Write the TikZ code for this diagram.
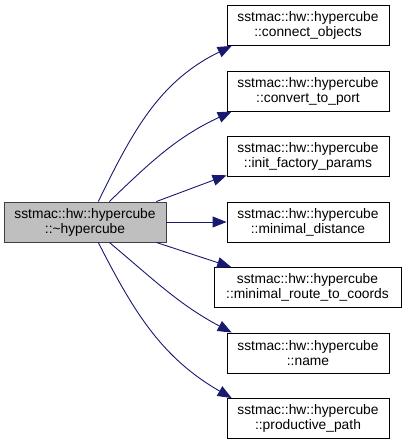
\documentclass[tikz,border=0pt]{standalone}
\usepackage{fontspec}
\setmainfont{Liberation Sans}
\usetikzlibrary{arrows.meta}
\definecolor{edgeblue}{HTML}{191970}
\definecolor{rootgray}{HTML}{BFBFBF}
\definecolor{rootline}{HTML}{404040}
\begin{document}
\begin{tikzpicture}[x=1pt, y=-1pt,
  fn/.style={draw=black, line width=0.9pt, fill=white, minimum width=162pt, minimum height=40pt,
    inner sep=2pt, align=center, font=\fontsize{13.8}{15}\selectfont},
  root/.style={fn, draw=rootline, fill=rootgray},
  call/.style={draw=edgeblue, line width=0.9pt, -{Triangle[length=14pt, width=11pt]}}]
\useasboundingbox (0, 0) rectangle (407, 444);
\node[root] (dtor) at (85, 222) {sstmac::hw::hypercube\\::\textasciitilde hypercube};
\node[fn] (cobj) at (308, 25.5) {sstmac::hw::hypercube\\::connect\_objects};
\node[fn] (cport) at (308, 91) {sstmac::hw::hypercube\\::convert\_to\_port};
\node[fn] (ifp) at (308, 156.5) {sstmac::hw::hypercube\\::init\_factory\_params};
\node[fn] (mdist) at (308, 222) {sstmac::hw::hypercube\\::minimal\_distance};
\node[fn, minimum width=187pt] (mrtc) at (307.5, 287.5) {sstmac::hw::hypercube\\::minimal\_route\_to\_coords};
\node[fn] (name) at (308, 353) {sstmac::hw::hypercube\\::name};
\node[fn] (ppath) at (308, 418.5) {sstmac::hw::hypercube\\::productive\_path};
\draw[call] (dtor.57) to[out=64, in=206] (cobj.195);
\draw[call] (dtor.40) to[out=44, in=205] (cport.195);
\draw[call] (dtor.16) -- (ifp.193);
\draw[call] (dtor) -- (mdist);
\draw[call] (dtor.-16) -- (mrtc.165);
\draw[call] (dtor.-40) to[out=-40, in=152] (name.165);
\draw[call] (dtor.-57) to[out=-63, in=150] (ppath.165);
\end{tikzpicture}
\end{document}
